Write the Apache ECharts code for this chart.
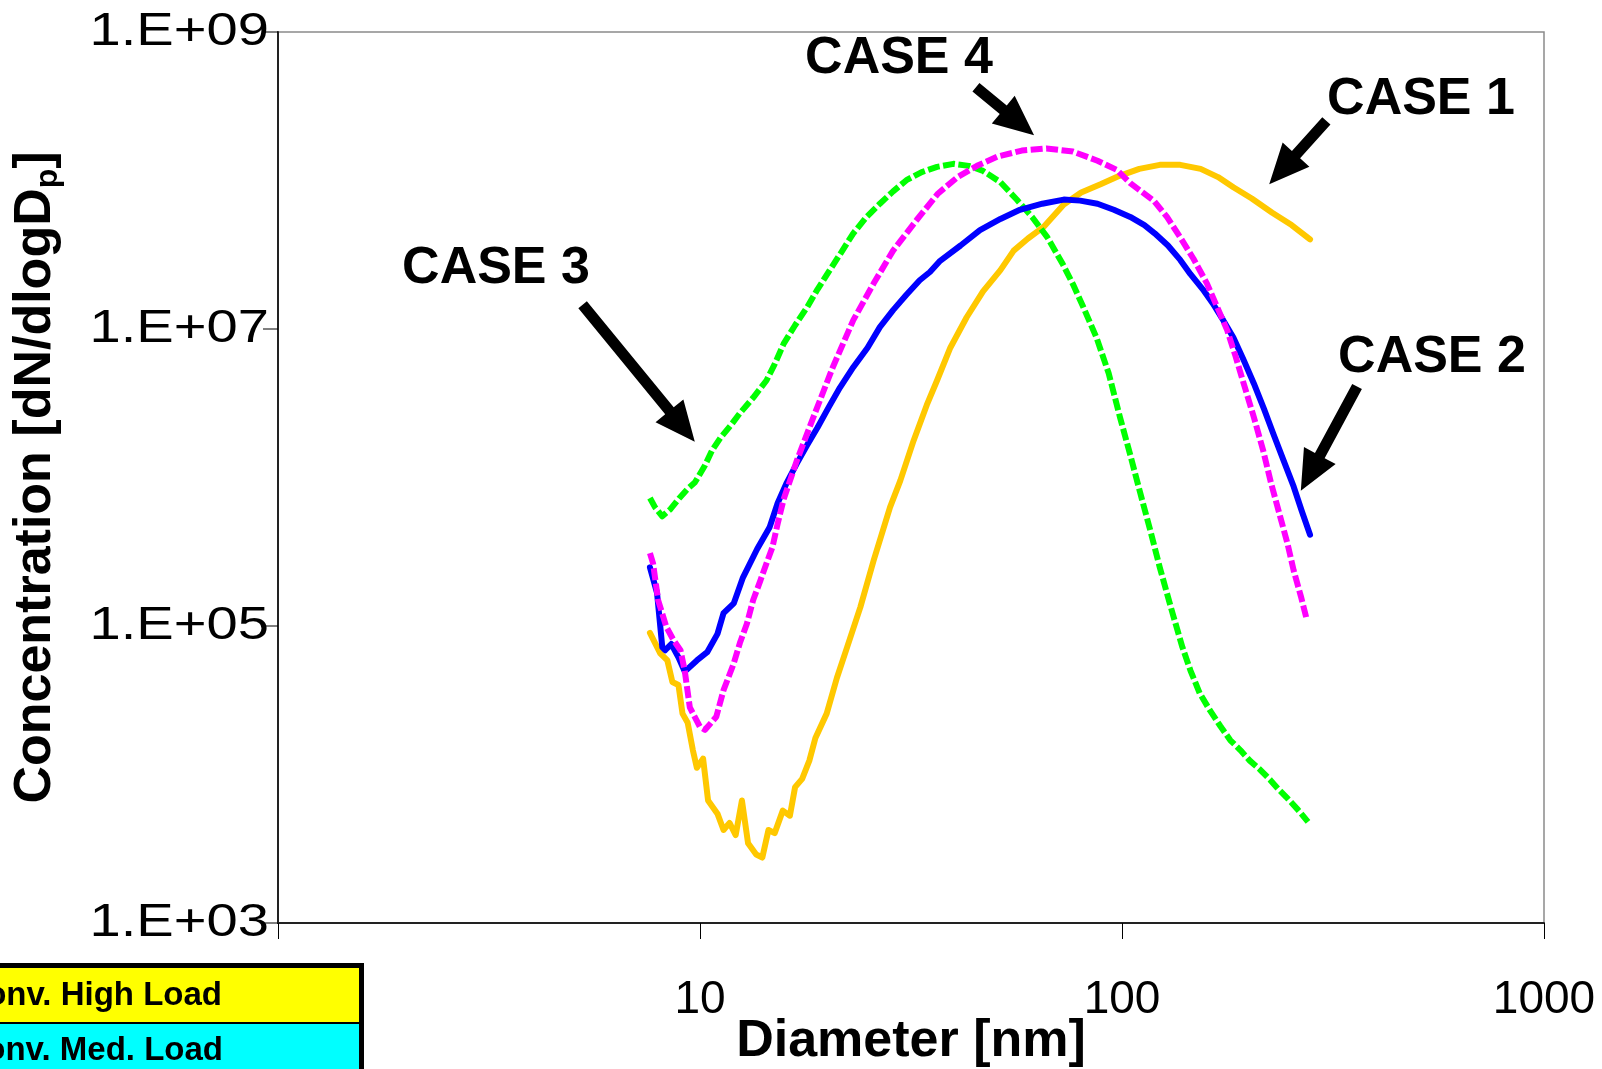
<!DOCTYPE html>
<html><head><meta charset="utf-8">
<script src="https://cdn.jsdelivr.net/npm/echarts@6/dist/echarts.min.js"></script>
<style>html,body{margin:0;padding:0;background:#fff;overflow:hidden}#c{width:1602px;height:1069px}</style>
</head><body><div id="c"></div>
<script>
// ---- data (diameter in nm, concentration dN/dlogDp) ----
const case1_d = [7.61,8.05,8.37,8.60,8.89,9.09,9.35,9.62,9.83,10.17,10.45,11.00,11.37,11.75,12.15,12.57,13.00,13.59,14.05,14.53,15.03,15.71,16.33,16.80,17.46,18.16,18.77,19.96,21.11,22.32,23.99,25.80,28.21,29.83,32.07,34.47,36.45,39.19,42.85,46.85,51.51,55.38,59.86,65.10,72.78,80.02,88.96,98.33,109.9,122.9,137.4,153.6,168.9,183.6,203.0,227.0,252.3,279.0];
const case1_v = [8.99e4,6.55e4,5.86e4,4.20e4,4.01e4,2.57e4,2.23e4,1.455e4,1.11e4,1.28e4,6.69e3,5.45e3,4.23e3,4.72e3,3.91e3,6.69e3,3.44e3,2.89e3,2.76e3,4.23e3,4.03e3,5.71e3,5.28e3,8.22e3,9.34e3,1.24e4,1.76e4,2.57e4,4.48e4,7.21e4,1.34e5,2.77e5,6.32e5,9.53e5,1.77e6,3.08e6,4.50e6,7.48e6,1.20e7,1.79e7,2.49e7,3.37e7,4.07e7,4.85e7,6.9e7,8.31e7,9.43e7,1.071e8,1.197e8,1.275e8,1.275e8,1.197e8,1.054e8,9.00e7,7.56e7,6.06e7,5.01e7,4.01e7];

const case2_d = [7.61,7.91,8.14,8.27,8.55,8.89,9.20,9.83,10.40,11.00,11.37,12.02,12.64,13.66,14.61,15.28,16.06,16.98,17.96,18.99,20.19,21.46,23.08,24.95,26.68,28.68,30.84,33.16,35.06,37.07,41.44,46.07,51.51,57.28,64.74,72.78,79.58,87.49,95.63,104.6,113.0,119.5,128.5,137.4,145.3,155.4,164.3,173.7,183.6,194.2,205.3,217.1,228.2,241.3,255.2,266.8,279.0];
const case2_v = [2.48e5,1.67e5,7.21e4,6.87e4,7.56e4,6.15e4,4.93e4,5.86e4,6.66e4,8.85e4,1.22e5,1.42e5,2.12e5,3.30e5,4.60e5,6.73e5,9.24e5,1.25e6,1.66e6,2.17e6,2.98e6,4.03e6,5.53e6,7.48e6,1.03e7,1.34e7,1.70e7,2.13e7,2.42e7,2.88e7,3.65e7,4.63e7,5.51e7,6.35e7,6.98e7,7.44e7,7.32e7,6.98e7,6.35e7,5.68e7,5.01e7,4.41e7,3.65e7,2.92e7,2.34e7,1.85e7,1.48e7,1.147e7,8.76e6,6.18e6,4.30e6,2.89e6,1.98e6,1.31e6,8.67e5,5.93e5,4.12e5];

const case3_d = [7.61,7.82,8.14,8.51,8.94,9.35,9.72,10.28,10.69,11.18,11.82,12.43,13.36,14.37,15.03,15.79,16.80,17.96,18.99,20.30,21.58,23.08,24.81,26.68,28.68,30.84,33.53,36.45,39.86,43.35,46.85,51.51,56.30,61.23,66.56,72.36,76.54,80.91,87.01,92.99,98.9,104.6,110.6,116.9,122.9,130.7,139.0,145.3,152.8,161.6,170.8,180.6,190.9,200.8,212.3,224.5,234.7,245.4,261.0,275.9];
const case3_v = [7.28e5,6.31e5,5.48e5,6.12e5,7.28e5,8.40e5,9.24e5,1.21e6,1.53e6,1.85e6,2.24e6,2.71e6,3.44e6,4.50e6,5.80e6,7.97e6,1.06e7,1.41e7,1.85e7,2.49e7,3.26e7,4.41e7,5.68e7,6.98e7,8.45e7,1.005e8,1.14e8,1.235e8,1.295e8,1.255e8,1.16e8,9.74e7,7.44e7,5.68e7,4.14e7,2.74e7,2.00e7,1.41e7,8.76e6,5.03e6,2.55e6,1.42e6,7.76e5,4.32e5,2.48e5,1.32e5,7.21e4,5.01e4,3.53e4,2.70e4,2.13e4,1.70e4,1.455e4,1.24e4,1.08e4,9.19e3,7.97e3,7.02e3,5.80e3,4.80e3];

const case4_d = [7.61,7.74,7.96,8.32,8.65,8.99,9.20,9.46,10.0,10.28,10.93,11.37,12.02,12.43,12.92,13.36,13.90,14.37,14.85,15.28,15.79,16.98,18.57,20.64,23.08,25.80,28.68,32.61,36.66,40.76,45.32,50.66,57.89,66.20,76.54,87.49,97.25,104.6,118.9,127.8,137.4,147.7,158.9,168.0,177.6,185.7,194.2,205.3,215.9,225.7,237.3,246.8,255.2,265.3,274.4];
const case4_v = [3.09e5,2.64e5,1.49e5,9.89e4,8.05e4,6.87e4,5.01e4,2.83e4,2.09e4,2.00e4,2.45e4,3.70e4,5.59e4,7.68e4,1.04e5,1.49e5,2.02e5,2.64e5,3.40e5,4.90e5,7.17e5,1.31e6,2.55e6,5.53e6,1.147e7,2.03e7,3.37e7,5.42e7,8.18e7,1.054e8,1.255e8,1.447e8,1.591e8,1.643e8,1.566e8,1.358e8,1.178e8,9.59e7,7.32e7,5.68e7,4.14e7,2.97e7,2.03e7,1.41e7,9.79e6,6.59e6,4.30e6,2.55e6,1.53e6,9.09e5,5.39e5,3.57e5,2.36e5,1.59e5,1.09e5];

// y tick values and their labels
const yTickValues = [1e3, 1e5, 1e7, 1e9];
const yTickLabels = ['1.E+03', '1.E+05', '1.E+07', '1.E+09'];

// annotation labels and arrows (tail -> head, in data units)
const caseLabels = ['CASE 1','CASE 2','CASE 3','CASE 4'];
const arrowTail = [[305,2.52e8],[360.6,4.10e6],[5.27,1.455e7],[45.07,4.25e8]];
const arrowHead = [[223.3,9.43e7],[265.3,8.14e5],[9.72,1.74e6],[61.9,2.02e8]];
const legendRows = ['Conv. High Load','Conv. Med. Load'];

const FONT = '"Liberation Sans", Arial, Helvetica, sans-serif';
function pairs(d, v) { const n = Math.min(d.length, v.length); const out = []; for (let i = 0; i < n; i++) out.push([d[i], v[i]]); return out; }

const chart = echarts.init(document.getElementById('c'), null, {renderer: 'canvas'});

function lineSeries(name, d, v, color, dashed) {
  return {
    name, type: 'line', data: pairs(d, v), showSymbol: false, symbol: 'none',
    smooth: false, animation: false, silent: true,
    lineStyle: {color, width: 6, type: dashed ? [12, 3.5] : 'solid', cap: dashed ? 'butt' : 'round', join: 'round'}
  };
}

chart.setOption({
  animation: false,
  backgroundColor: '#fff',
  grid: {left: 278, right: 58, top: 32, bottom: 146, containLabel: false, outerBoundsMode: 'none',
    show: true, borderColor: '#8a8a8a', borderWidth: 1.5, backgroundColor: 'transparent'},
  xAxis: {
    type: 'log', logBase: 10, min: 1, max: 1000, interval: 1,
    name: 'Diameter [nm]', nameLocation: 'middle', nameGap: 93, nameMoveOverlap: false,
    nameTextStyle: {fontFamily: FONT, fontWeight: 'bold', fontSize: 52, color: '#000'},
    axisLine: {show: true, lineStyle: {color: '#222', width: 2}},
    axisTick: {show: true, length: 16, lineStyle: {color: '#000', width: 1}},
    minorTick: {show: false},
    axisLabel: {margin: 54, fontFamily: FONT, fontSize: 46, color: '#000', formatter: v => String(Math.round(v))},
    splitLine: {show: false}
  },
  yAxis: {
    type: 'log', logBase: 10, min: 1e3, max: 1e9, interval: 2,
    name: '{m|Concentration [dN/dlogD}{s|p}{m|]}', nameLocation: 'middle', nameGap: 214, nameRotate: 90, nameMoveOverlap: false,
    nameTextStyle: {
      rich: {
        m: {fontFamily: FONT, fontWeight: 'bold', fontSize: 52, lineHeight: 56, color: '#000'},
        s: {fontFamily: FONT, fontWeight: 'bold', fontSize: 32, lineHeight: 22, verticalAlign: 'bottom', color: '#000'}
      }
    },
    axisLine: {show: true, lineStyle: {color: '#222', width: 2}},
    axisTick: {show: false},
    minorTick: {show: false},
    axisLabel: {show: false},
    splitLine: {show: false}
  },
  series: [
    lineSeries('CASE 1', case1_d, case1_v, '#FFC800', false),
    lineSeries('CASE 3', case3_d, case3_v, '#00FF00', true),
    lineSeries('CASE 2', case2_d, case2_v, '#0000FF', false),
    lineSeries('CASE 4', case4_d, case4_v, '#FF00FF', true)
  ]
});

function arrowPoints(p0, p1, sw, hl, hw) {
  const dx = p1[0] - p0[0], dy = p1[1] - p0[1];
  const L = Math.hypot(dx, dy), ux = dx / L, uy = dy / L, nx = -uy, ny = ux;
  const bx = p1[0] - ux * hl, by = p1[1] - uy * hl;
  return [
    [p0[0] + nx * sw / 2, p0[1] + ny * sw / 2],
    [bx + nx * sw / 2, by + ny * sw / 2],
    [bx + nx * hw / 2, by + ny * hw / 2],
    [p1[0], p1[1]],
    [bx - nx * hw / 2, by - ny * hw / 2],
    [bx - nx * sw / 2, by - ny * sw / 2],
    [p0[0] - nx * sw / 2, p0[1] - ny * sw / 2]
  ];
}
const graphics = [];
// y-axis ticks + labels (positions from the axis scale)
const axisX = chart.convertToPixel({gridIndex: 0}, [1, 1e3])[0];
yTickValues.forEach((v, i) => {
  const py = chart.convertToPixel({gridIndex: 0}, [1, v])[1];
  graphics.push({type: 'line', z: 50, shape: {x1: axisX - 15, y1: py, x2: axisX, y2: py}, style: {stroke: '#000', lineWidth: 1}});
  graphics.push({type: 'text', z: 50, x: axisX - 9, y: py, scaleX: 1.22,
    style: {text: yTickLabels[i], fontFamily: FONT, fontSize: 46, fill: '#000', textAlign: 'right', textVerticalAlign: 'middle'}});
});
const labelPos = [[1421, 100], [1432, 358], [496, 269], [899, 59]];
for (let i = 0; i < arrowTail.length; i++) {
  const p0 = chart.convertToPixel({gridIndex: 0}, arrowTail[i]);
  const p1 = chart.convertToPixel({gridIndex: 0}, arrowHead[i]);
  graphics.push({type: 'polygon', z: 100, shape: {points: arrowPoints(p0, p1, 11, 40, 36)}, style: {fill: '#000'}});
  graphics.push({type: 'text', z: 100, x: labelPos[i][0], y: labelPos[i][1],
    style: {text: caseLabels[i], fontFamily: FONT, fontWeight: 'bold', fontSize: 52, fill: '#000', textAlign: 'center', textVerticalAlign: 'middle'}});
}
// legend-like table at bottom-left
graphics.push({type: 'rect', z: 200, shape: {x: -10, y: 963, width: 374, height: 130}, style: {fill: '#000'}});
graphics.push({type: 'rect', z: 201, shape: {x: -10, y: 968, width: 369, height: 54}, style: {fill: '#FFFF00'}});
graphics.push({type: 'rect', z: 201, shape: {x: -10, y: 1024, width: 369, height: 70}, style: {fill: '#00FFFF'}});
graphics.push({type: 'text', z: 202, x: 222, y: 996, style: {text: legendRows[0], fontFamily: FONT, fontWeight: 'bold', fontSize: 33, fill: '#000', textAlign: 'right', textVerticalAlign: 'middle'}});
graphics.push({type: 'text', z: 202, x: 223, y: 1051, style: {text: legendRows[1], fontFamily: FONT, fontWeight: 'bold', fontSize: 33, fill: '#000', textAlign: 'right', textVerticalAlign: 'middle'}});
chart.setOption({graphic: graphics});
</script>
</body></html>
